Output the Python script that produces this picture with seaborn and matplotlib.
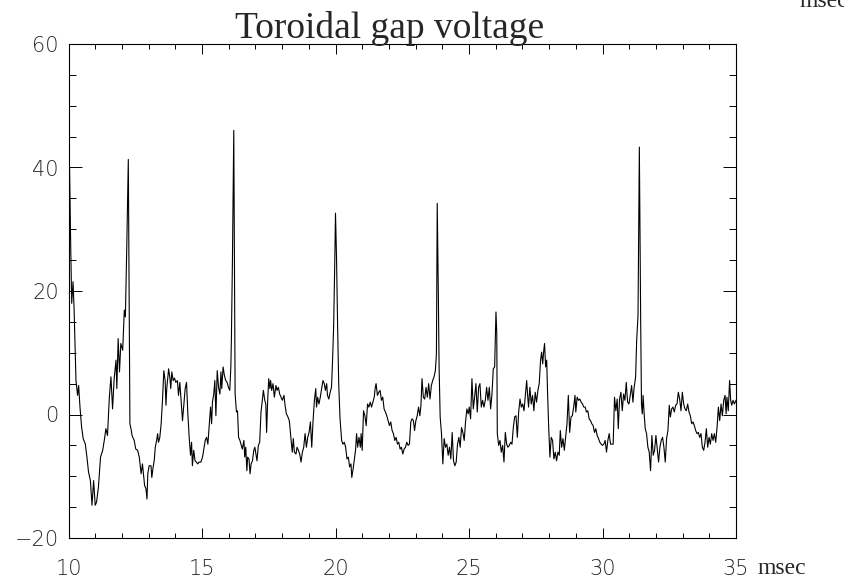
# Toroidal gap voltage trace (msec vs volts)

import matplotlib
matplotlib.use("Agg")
import pandas as pd
import matplotlib.pyplot as plt
import seaborn as sns
from matplotlib.ticker import MultipleLocator

# Data: time (msec) and gap voltage
time_ms = [
    10.00, 10.04, 10.08, 10.12, 10.17, 10.21, 10.28, 10.34, 10.38, 10.43,
    10.49, 10.55, 10.63, 10.69, 10.75, 10.82, 10.88, 10.94, 11.00, 11.05,
    11.12, 11.20, 11.28, 11.34, 11.40, 11.46, 11.53, 11.59, 11.65, 11.71,
    11.78, 11.81, 11.86, 11.91, 11.96, 12.03, 12.09, 12.13, 12.18, 12.24,
    12.30, 12.35, 12.38, 12.46, 12.52, 12.59, 12.65, 12.72, 12.77, 12.85,
    12.90, 12.94, 12.97, 13.02, 13.09, 13.12, 13.17, 13.21, 13.25, 13.30,
    13.34, 13.37, 13.42, 13.47, 13.52, 13.57, 13.62, 13.65, 13.68, 13.75,
    13.80, 13.83, 13.87, 13.92, 13.97, 14.02, 14.08, 14.12, 14.17, 14.22,
    14.27, 14.32, 14.37, 14.42, 14.47, 14.52, 14.57, 14.61, 14.64, 14.69,
    14.74, 14.79, 14.84, 14.89, 14.96, 15.02, 15.07, 15.12, 15.17, 15.22,
    15.27, 15.32, 15.36, 15.39, 15.44, 15.48, 15.52, 15.57, 15.62, 15.67,
    15.71, 15.74, 15.79, 15.84, 15.89, 15.94, 15.99, 16.04, 16.08, 16.10,
    16.14, 16.19, 16.24, 16.29, 16.33, 16.37, 16.42, 16.47, 16.51, 16.57,
    16.60, 16.64, 16.68, 16.71, 16.76, 16.80, 16.84, 16.89, 16.94, 16.98,
    17.01, 17.06, 17.11, 17.16, 17.21, 17.26, 17.30, 17.35, 17.39, 17.42,
    17.46, 17.50, 17.54, 17.57, 17.61, 17.66, 17.71, 17.77, 17.81, 17.86,
    17.91, 17.96, 18.01, 18.07, 18.11, 18.16, 18.21, 18.27, 18.33, 18.38,
    18.42, 18.46, 18.52, 18.56, 18.61, 18.66, 18.71, 18.76, 18.81, 18.86,
    18.91, 18.96, 19.01, 19.06, 19.11, 19.16, 19.21, 19.26, 19.29, 19.33,
    19.38, 19.43, 19.48, 19.53, 19.58, 19.62, 19.67, 19.70, 19.75, 19.80,
    19.85, 19.89, 19.93, 19.97, 20.00, 20.04, 20.08, 20.12, 20.17, 20.23,
    20.28, 20.33, 20.38, 20.43, 20.48, 20.53, 20.58, 20.61, 20.66, 20.70,
    20.75, 20.79, 20.83, 20.88, 20.93, 20.96, 21.00, 21.05, 21.10, 21.15,
    21.20, 21.25, 21.30, 21.35, 21.40, 21.45, 21.49, 21.52, 21.57, 21.62,
    21.67, 21.72, 21.77, 21.82, 21.87, 21.92, 21.97, 22.02, 22.07, 22.12,
    22.17, 22.22, 22.27, 22.32, 22.37, 22.42, 22.47, 22.52, 22.57, 22.62,
    22.67, 22.72, 22.77, 22.82, 22.87, 22.92, 22.96, 23.01, 23.06, 23.11,
    23.16, 23.20, 23.24, 23.29, 23.34, 23.39, 23.44, 23.49, 23.54, 23.59,
    23.64, 23.69, 23.74, 23.78, 23.81, 23.85, 23.88, 23.92, 23.97, 24.02,
    24.07, 24.12, 24.17, 24.22, 24.27, 24.32, 24.37, 24.42, 24.47, 24.52,
    24.57, 24.62, 24.67, 24.72, 24.77, 24.82, 24.87, 24.92, 24.97, 25.01,
    25.06, 25.11, 25.16, 25.21, 25.26, 25.31, 25.36, 25.41, 25.46, 25.51,
    25.56, 25.61, 25.66, 25.71, 25.76, 25.81, 25.86, 25.91, 25.96, 26.01,
    26.04, 26.06, 26.11, 26.16, 26.21, 26.26, 26.31, 26.36, 26.41, 26.46,
    26.51, 26.56, 26.61, 26.66, 26.71, 26.76, 26.81, 26.86, 26.91, 26.96,
    27.01, 27.06, 27.11, 27.16, 27.20, 27.23, 27.28, 27.33, 27.38, 27.43,
    27.48, 27.53, 27.58, 27.63, 27.68, 27.72, 27.76, 27.80, 27.83, 27.87,
    27.91, 27.94, 27.98, 28.03, 28.08, 28.13, 28.18, 28.23, 28.28, 28.33,
    28.38, 28.42, 28.47, 28.52, 28.57, 28.62, 28.67, 28.72, 28.77, 28.82,
    28.87, 28.92, 28.97, 29.00, 29.05, 29.10, 29.15, 29.20, 29.25, 29.30,
    29.35, 29.40, 29.45, 29.50, 29.55, 29.60, 29.65, 29.70, 29.75, 29.80,
    29.85, 29.90, 29.95, 30.00, 30.05, 30.10, 30.15, 30.20, 30.25, 30.30,
    30.35, 30.40, 30.45, 30.50, 30.55, 30.59, 30.64, 30.69, 30.74, 30.79,
    30.84, 30.89, 30.94, 30.99, 31.04, 31.09, 31.14, 31.18, 31.24, 31.28,
    31.33, 31.38, 31.43, 31.46, 31.49, 31.52, 31.56, 31.60, 31.65, 31.70,
    31.75, 31.80, 31.85, 31.90, 31.95, 32.00, 32.05, 32.10, 32.15, 32.20,
    32.25, 32.30, 32.35, 32.40, 32.45, 32.50, 32.54, 32.59, 32.64, 32.69,
    32.74, 32.79, 32.84, 32.89, 32.94, 32.99, 33.04, 33.09, 33.14, 33.19,
    33.24, 33.29, 33.34, 33.39, 33.44, 33.49, 33.54, 33.59, 33.64, 33.69,
    33.74, 33.79, 33.84, 33.89, 33.94, 33.99, 34.04, 34.09, 34.14, 34.19,
    34.24, 34.29, 34.34, 34.39, 34.44, 34.49, 34.54, 34.59, 34.63, 34.66,
    34.71, 34.76, 34.80, 34.84, 34.89, 34.94, 35.00,
]

gap_voltage = [
    22, 40, 28, 18, 21.5, 17, 5.5, 3.1, 4.7, 1.2,
    -2.0, -3.9, -4.8, -6.9, -9.3, -10.7, -14.7, -10.7, -14.7, -14.2,
    -11.8, -6.9, -5.8, -4.2, -2.3, -3.4, 2.8, 6.1, 0.9, 5.8,
    8.8, 4.2, 12.3, 6.9, 11.5, 10.4, 16.9, 15.8, 26.6, 41.3,
    -1.5, -2.5, -3.4, -4.2, -5.6, -5.8, -6.9, -9.6, -8.0, -11.5,
    -12.0, -13.7, -9.6, -8.3, -8.3, -10.2, -8.5, -7.5, -5.3, -4.2,
    -3.1, -4.5, -3.7, -1.5, 2.3, 7.1, 5.5, 1.5, 4.2, 7.4,
    5.8, 4.2, 6.9, 5.5, 5.9, 5.2, 5.5, 3.1, 5.2, 2.0,
    -1.0, 1.7, 4.2, 5.2, 0.1, -3.7, -6.6, -4.5, -8.3, -5.8,
    -7.5, -7.7, -8.0, -7.7, -7.7, -6.9, -5.6, -4.2, -3.7, -4.8,
    -1.8, 1.2, -1.5, 2.0, 3.3, 5.5, -0.2, 7.1, 4.4, 3.3,
    6.9, 4.2, 7.7, 6.3, 5.5, 5.2, 4.4, 3.9, 7.7, 12.0,
    25.0, 46.0, 3.4, 0.4, 0.6, -3.7, -4.2, -5.0, -5.6, -4.2,
    -6.9, -5.3, -9.1, -6.9, -7.2, -9.6, -8.0, -7.5, -5.8, -5.3,
    -6.1, -7.5, -5.0, -4.5, 0.4, 2.3, 3.9, 2.3, 1.7, -2.9,
    2.3, 5.8, 4.2, 5.5, 3.9, 5.0, 2.8, 4.7, 3.9, 4.4,
    3.3, 2.8, 2.3, 3.1, 1.5, 0.1, -0.3, -1.0, -3.7, -6.1,
    -3.9, -6.1, -6.4, -5.3, -5.8, -6.4, -7.7, -6.1, -5.3, -3.1,
    -5.3, -3.7, -2.9, -1.2, -5.3, -1.0, 2.3, 4.2, 1.2, 2.8,
    1.7, 2.8, 4.2, 5.5, 5.0, 3.9, 5.0, 3.1, 2.5, 3.6,
    4.4, 8.8, 14.2, 24.0, 32.6, 25.0, 14.0, 5.0, -0.7, -4.2,
    -4.8, -4.5, -5.3, -7.2, -6.9, -8.5, -8.0, -10.2, -8.8, -7.5,
    -5.8, -3.1, -5.3, -3.7, -5.3, -3.1, -5.8, 0.6, -0.2, -1.8,
    1.7, 1.2, 2.0, 1.2, 2.0, 2.8, 4.4, 5.0, 3.1, 3.6,
    3.9, 2.3, 2.8, 0.9, 0.4, -0.2, -1.0, -1.8, -1.2, -2.6,
    -3.1, -4.2, -3.7, -4.8, -4.5, -5.6, -5.3, -6.4, -5.6, -5.3,
    -4.5, -5.0, -4.8, -1.2, -0.7, -1.0, -2.6, -1.0, -0.2, 1.2,
    -0.2, 1.5, 5.8, 2.8, 2.5, 4.4, 2.8, 5.0, 2.5, 4.7,
    5.5, 6.1, 7.1, 9.8, 34.2, 20.0, 7.7, -0.4, -3.1, -8.0,
    -3.9, -5.3, -4.8, -6.6, -5.3, -7.2, -2.9, -7.5, -8.3, -7.7,
    -4.8, -3.7, -5.3, -2.1, -2.9, -4.2, -1.2, 0.9, 0.1, 1.2,
    -0.7, 5.8, 0.9, 2.8, 5.0, 0.4, 4.4, 5.0, 1.2, 2.3,
    1.2, 2.3, 4.4, 2.3, 4.4, 0.9, 3.3, 7.4, 7.7, 16.6,
    13.1, -3.1, -5.0, -4.2, -6.1, -5.0, -7.7, -2.9, -4.8, -5.3,
    -5.0, -4.5, -4.8, -2.1, -0.4, -0.2, -3.7, 0.4, 2.5, 1.2,
    1.7, 0.6, 3.1, 5.5, 2.8, 1.2, 4.4, 1.7, 3.1, 0.6,
    3.6, 2.0, 3.9, 5.0, 8.8, 10.1, 8.2, 10.4, 11.5, 7.7,
    8.8, 3.9, -1.5, -6.9, -3.7, -4.2, -7.2, -6.1, -7.5, -6.1,
    -6.6, -2.6, -5.3, -3.9, -5.8, -3.7, -1.5, 3.1, -2.9, -0.4,
    -0.2, 1.2, 3.1, 0.4, 2.8, 2.3, 2.5, 2.0, 1.7, 1.2,
    1.2, 0.4, 0.6, -0.7, -1.0, -1.5, -1.8, -2.9, -2.3, -3.4,
    -3.9, -4.5, -4.8, -5.0, -4.8, -4.2, -6.1, -4.2, -3.1, -4.8,
    -4.8, -4.8, 2.8, 0.6, 2.5, -2.3, 2.5, 3.6, 0.6, 3.3,
    2.3, 5.2, 2.0, 1.7, 3.1, 4.7, 2.0, 4.2, 6.1, 12.0,
    16.0, 43.3, 15.0, 1.7, 0.1, 3.1, 0.1, -2.3, -3.1, -5.3,
    -6.1, -9.1, -3.4, -6.6, -5.8, -3.4, -5.6, -7.7, -5.3, -4.2,
    -3.7, -5.3, -7.7, -3.9, -2.6, 1.5, -0.4, 0.9, 1.2, 0.4,
    1.5, 1.7, 3.6, 2.5, 0.6, 3.6, 1.7, 0.9, 0.6, 1.7,
    0.4, -0.2, -1.5, -1.2, -1.8, -2.6, -3.1, -2.9, -3.7, -3.1,
    -5.3, -5.8, -4.5, -2.3, -5.3, -3.7, -4.8, -3.1, -4.2, -3.1,
    -4.5, -2.1, 1.2, -1.0, 1.7, -0.2, 2.3, 3.1, 0.1, 2.8,
    0.6, 5.5, 2.3, 1.5, 2.3, 1.7, 2.3,
]

assert len(time_ms) == len(gap_voltage)

df = pd.DataFrame({"msec": time_ms, "volts": gap_voltage})

sns.set_style("ticks")
plt.rcParams["font.family"] = ["DejaVu Sans"]

fig = plt.figure(figsize=(8.44, 5.81), dpi=100)
ax = fig.add_axes([68.5 / 844, 1 - 538 / 581, 667.5 / 844, 494 / 581])

sns.lineplot(data=df, x="msec", y="volts", estimator=None, sort=False,
             color="black", linewidth=0.8, ax=ax)

ax.set_xlim(10, 35)
ax.set_ylim(-20, 60)
ax.set_xlabel("")
ax.set_ylabel("")
ax.xaxis.set_major_locator(MultipleLocator(5))
ax.xaxis.set_minor_locator(MultipleLocator(1))
ax.yaxis.set_major_locator(MultipleLocator(20))
ax.yaxis.set_minor_locator(MultipleLocator(5))

ax.tick_params(which="both", direction="in", top=True, right=True,
               color="black", width=0.7, labelsize=15)
ax.tick_params(axis="x", which="major", length=7.1, pad=15)
ax.tick_params(axis="x", which="minor", length=3.6)
ax.tick_params(axis="y", which="major", length=9.6, pad=7)
ax.tick_params(axis="y", which="minor", length=4.8)
for lab in ax.get_xticklabels() + ax.get_yticklabels():
    lab.set_fontweight("light")

for s in ax.spines.values():
    s.set_linewidth(0.8)
    s.set_color("black")

serif = ["Liberation Serif", "DejaVu Serif"]
fig.text(390 / 844, 1 - 38 / 581, "Toroidal gap voltage", family=serif,
         size=27, ha="center", va="baseline")
fig.text(757 / 844, 1 - 574 / 581, "msec", family=serif, size=17,
         ha="left", va="baseline")
fig.text(800 / 844, 1 - 7 / 581, "msec", family=serif, size=17,
         ha="left", va="baseline")

fig.savefig("out.png", dpi=100)
